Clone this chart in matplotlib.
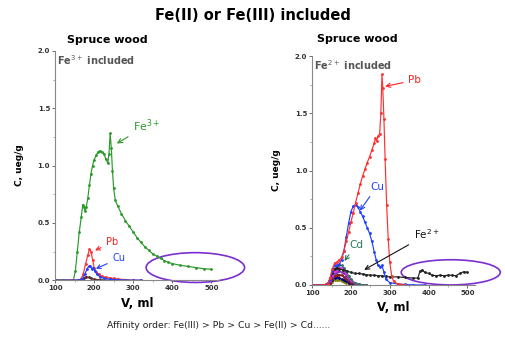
import matplotlib.pyplot as plt
from matplotlib.patches import Ellipse
from matplotlib.ticker import MultipleLocator

# ---- left panel: Fe3+ included ----
fe3_v = [100, 120, 140, 147, 152, 157, 162, 167, 171, 174, 177, 180, 184, 188, 192, 196, 200, 205,
         210, 215, 220, 225, 230, 235, 238, 241, 244, 247, 250, 254, 260, 270, 280, 290, 300, 310,
         320, 330, 340, 350, 360, 370, 380, 390, 400, 420, 440, 460, 480, 500]
fe3_c = [0.0, 0.0, 0.0, 0.0, 0.08, 0.25, 0.42, 0.55, 0.66, 0.64, 0.60, 0.64, 0.72, 0.83, 0.93, 1.00, 1.05, 1.09,
         1.12, 1.13, 1.12, 1.10, 1.06, 1.02, 1.10, 1.28, 1.15, 0.95, 0.80, 0.70, 0.65, 0.58, 0.52, 0.47, 0.42, 0.37,
         0.33, 0.29, 0.26, 0.23, 0.21, 0.19, 0.17, 0.155, 0.145, 0.13, 0.12, 0.11, 0.10, 0.095]
pb3_v = [100, 140, 160, 166, 172, 178, 184, 188, 192, 196, 200, 206, 212, 220, 230, 240, 250, 260, 280, 300, 320]
pb3_c = [0.0, 0.0, 0.0, 0.01, 0.05, 0.14, 0.22, 0.27, 0.25, 0.18, 0.11, 0.07, 0.05, 0.035, 0.025, 0.02, 0.015, 0.01, 0.005, 0.0, 0.0]
cu3_v = [100, 160, 170, 176, 182, 186, 190, 194, 198, 202, 208, 215, 225, 240, 260, 280, 300, 320]
cu3_c = [0.0, 0.0, 0.01, 0.05, 0.10, 0.12, 0.12, 0.10, 0.11, 0.08, 0.05, 0.03, 0.015, 0.008, 0.004, 0.0, 0.0, 0.0]
dk3_v = [100, 160, 168, 174, 180, 186, 192, 200, 215, 240, 280]
dk3_c = [0.0, 0.0, 0.01, 0.02, 0.03, 0.025, 0.015, 0.008, 0.003, 0.0, 0.0]

# ---- right panel: Fe2+ included ----
pb2_v = [100, 130, 140, 146, 152, 158, 164, 170, 176, 182, 188, 194, 200, 206, 212, 218, 224, 230,
         236, 242, 248, 254, 260, 263, 266, 270, 274, 277, 280, 282, 285, 288, 292, 296, 300, 305, 310, 320, 340]
pb2_c = [0.0, 0.0, 0.01, 0.06, 0.14, 0.19, 0.20, 0.22, 0.24, 0.30, 0.38, 0.46, 0.55, 0.63, 0.72, 0.80, 0.88, 0.95,
         1.01, 1.07, 1.12, 1.18, 1.24, 1.28, 1.26, 1.30, 1.32, 1.50, 1.84, 1.72, 1.45, 1.10, 0.70, 0.40, 0.20, 0.08, 0.03, 0.01, 0.0]
cu2_v = [100, 130, 140, 146, 152, 158, 164, 170, 176, 182, 188, 194, 200, 206, 212, 218, 224, 230, 236,
         242, 248, 254, 260, 265, 270, 275, 280, 285, 290, 300, 320, 340, 360, 390]
cu2_c = [0.0, 0.0, 0.01, 0.05, 0.12, 0.17, 0.17, 0.18, 0.22, 0.30, 0.42, 0.54, 0.64, 0.69, 0.70, 0.68, 0.64, 0.60, 0.55,
         0.50, 0.45, 0.38, 0.29, 0.22, 0.17, 0.16, 0.17, 0.11, 0.05, 0.02, 0.008, 0.004, 0.0, 0.0]
fe2_v = [100, 130, 140, 146, 152, 158, 164, 170, 180, 190, 200, 210, 220, 230, 240, 250, 260, 270, 280,
         290, 300, 320, 340, 360, 372, 378, 384, 390, 400, 410, 420, 430, 440, 450, 460, 470, 480, 490, 500]
fe2_c = [0.0, 0.0, 0.01, 0.05, 0.10, 0.14, 0.15, 0.14, 0.13, 0.12, 0.11, 0.10, 0.10, 0.095, 0.09, 0.085, 0.085, 0.08, 0.08,
         0.075, 0.07, 0.07, 0.065, 0.06, 0.06, 0.12, 0.13, 0.11, 0.10, 0.085, 0.08, 0.085, 0.08, 0.085, 0.085, 0.08, 0.10, 0.115, 0.11]
cd2_v = [100, 130, 140, 146, 152, 158, 164, 170, 176, 182, 188, 194, 200, 210, 220, 230, 240]
cd2_c = [0.0, 0.0, 0.01, 0.05, 0.10, 0.14, 0.16, 0.17, 0.17, 0.15, 0.12, 0.08, 0.05, 0.02, 0.008, 0.0, 0.0]
mg2_c = [0.0, 0.0, 0.01, 0.04, 0.09, 0.12, 0.14, 0.15, 0.15, 0.13, 0.10, 0.07, 0.04, 0.015, 0.005, 0.0, 0.0]
pu2_c = [0.0, 0.0, 0.01, 0.03, 0.07, 0.10, 0.11, 0.12, 0.11, 0.10, 0.08, 0.05, 0.03, 0.01, 0.004, 0.0, 0.0]
br2_c = [0.0, 0.0, 0.005, 0.02, 0.05, 0.08, 0.09, 0.09, 0.085, 0.07, 0.05, 0.035, 0.02, 0.008, 0.003, 0.0, 0.0]
nv2_c = [0.0, 0.0, 0.005, 0.015, 0.04, 0.06, 0.065, 0.06, 0.05, 0.04, 0.03, 0.02, 0.01, 0.004, 0.0, 0.0, 0.0]
ol2_c = [0.0, 0.0, 0.003, 0.01, 0.025, 0.04, 0.045, 0.04, 0.035, 0.025, 0.018, 0.01, 0.006, 0.002, 0.0, 0.0, 0.0]

fig = plt.figure(figsize=(5.05, 3.4), dpi=100)
fig.text(0.5, 0.955, "Fe(II) or Fe(III) included", ha="center", va="center",
         fontsize=10.5, fontweight="bold")

ax1 = fig.add_axes([0.109, 0.176, 0.325, 0.674])
ax2 = fig.add_axes([0.618, 0.162, 0.323, 0.673])

def style(ax, note):
    ax.set_xlim(100, 520)
    ax.set_ylim(0, 2.0)
    for s in ["top", "right"]:
        ax.spines[s].set_visible(False)
    for s in ["left", "bottom"]:
        ax.spines[s].set_color("#888888")
        ax.spines[s].set_linewidth(0.8)
    ax.set_xticks([100, 200, 300, 400, 500])
    ax.set_yticks([0.0, 0.5, 1.0, 1.5, 2.0])
    ax.set_yticklabels(["0.0", "0.5", "1.0", "1.5", "2.0"])
    ax.xaxis.set_minor_locator(MultipleLocator(50))
    ax.yaxis.set_minor_locator(MultipleLocator(0.25))
    ax.tick_params(labelsize=5, length=2, width=0.6, colors="#555555", pad=1.5)
    ax.tick_params(which="minor", length=1.2, width=0.5, colors="#888888")
    for lab in ax.get_xticklabels() + ax.get_yticklabels():
        lab.set_fontweight("bold")
        lab.set_color("#333333")
    ax.set_xlabel("V, ml", fontsize=8.5, fontweight="bold", labelpad=4)
    ax.set_ylabel("C, ueg/g", fontsize=6.5, fontweight="bold", labelpad=10)
    ax.text(104, 1.98, note, fontsize=7, fontweight="bold", color="#555555", va="top")

kw = dict(marker="o", markersize=1.0, linewidth=0.85)

fig.text(0.133, 0.882, "Spruce wood", fontsize=8, fontweight="bold", va="center")
fig.text(0.628, 0.885, "Spruce wood", fontsize=8, fontweight="bold", va="center")

style(ax1, "Fe$^{3+}$ included")
ax1.plot(dk3_v, dk3_c, color="#5a2a2a", **kw)
ax1.plot(fe3_v, fe3_c, color="#2a9a2a", **kw)
ax1.plot(pb3_v, pb3_c, color="#ff3030", **kw)
ax1.plot(cu3_v, cu3_c, color="#2040ff", **kw)
ax1.annotate("Fe$^{3+}$", xy=(252, 1.18), xytext=(300, 1.35), fontsize=8, color="#2a9a2a",
             va="center", arrowprops=dict(arrowstyle="->", color="#2a9a2a", lw=0.8))
ax1.annotate("Pb", xy=(196, 0.25), xytext=(231, 0.33), fontsize=7, color="#ff2020",
             va="center", arrowprops=dict(arrowstyle="->", color="#ff2020", lw=0.8))
ax1.annotate("Cu", xy=(198, 0.09), xytext=(247, 0.19), fontsize=7, color="#2040ff",
             va="center", arrowprops=dict(arrowstyle="->", color="#2040ff", lw=0.8))
ax1.add_patch(Ellipse((459, 0.11), 252, 0.26, fill=False, edgecolor="#7b2fd0",
                      linewidth=1.2, clip_on=False))

style(ax2, "Fe$^{2+}$ included")
for cv, col in [(ol2_c, "#808000"), (nv2_c, "#000080"), (br2_c, "#8b1a1a"),
                (pu2_c, "#8030b0"), (mg2_c, "#ff20ff")]:
    ax2.plot(cd2_v, cv, color=col, **kw)
ax2.plot(cd2_v, cd2_c, color="#2a7a5a", **kw)
ax2.plot(fe2_v, fe2_c, color="#222222", **kw)
ax2.plot(cu2_v, cu2_c, color="#2040ff", **kw)
ax2.plot(pb2_v, pb2_c, color="#ff3030", **kw)
ax2.annotate("Pb", xy=(281, 1.73), xytext=(348, 1.79), fontsize=7.5, color="#ff2020",
             va="center", arrowprops=dict(arrowstyle="->", color="#ff2020", lw=0.8))
ax2.annotate("Cu", xy=(219, 0.63), xytext=(249, 0.86), fontsize=7.5, color="#2040ff",
             va="center", arrowprops=dict(arrowstyle="->", color="#2040ff", lw=0.8))
ax2.annotate("Cd", xy=(179, 0.19), xytext=(196, 0.35), fontsize=7.5, color="#2a7a5a",
             va="center", arrowprops=dict(arrowstyle="->", color="#2a7a5a", lw=0.8))
ax2.annotate("Fe$^{2+}$", xy=(228, 0.12), xytext=(362, 0.44), fontsize=7.5, color="#111111",
             va="center", arrowprops=dict(arrowstyle="->", color="#111111", lw=0.8))
ax2.add_patch(Ellipse((457, 0.11), 255, 0.22, fill=False, edgecolor="#7b2fd0",
                      linewidth=1.2, clip_on=False))

fig.text(0.212, 0.044, "Affinity order: Fe(III) > Pb > Cu > Fe(II) > Cd......", fontsize=6.7,
         color="#222222", va="center")

fig.savefig("out.png", dpi=100, facecolor="white")
